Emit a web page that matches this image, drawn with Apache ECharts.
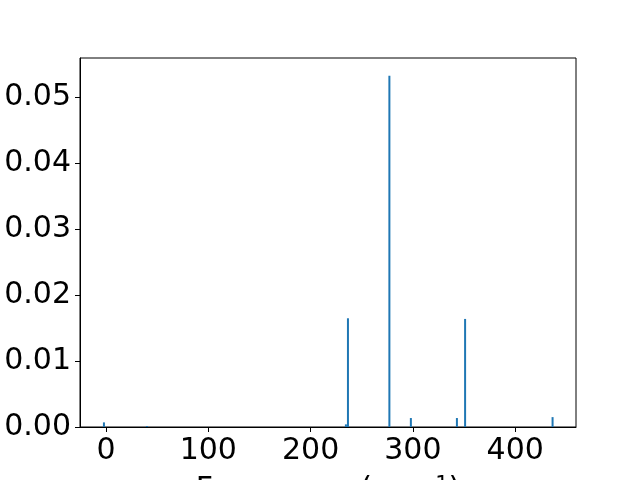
<!DOCTYPE html>
<html>
<head>
<meta charset="utf-8">
<script src="https://cdn.jsdelivr.net/npm/echarts@6/dist/echarts.min.js"></script>
<style>html,body{margin:0;padding:0;background:#fff;}#c{width:640px;height:480px;}</style>
</head>
<body>
<div id="c"></div>
<script>
// Frequencies (cm^-1) and intensities
const frequencies = [-2, 40, 234.5, 236.5, 277, 298, 343, 351, 436.5];
const intensities = [0.0007, 0.00015, 0.0004, 0.0165, 0.0533, 0.00136, 0.00136, 0.0164, 0.0015];
const xTicks = [0, 100, 200, 300, 400];
const yTicks = [0, 0.01, 0.02, 0.03, 0.04, 0.05];

const chart = echarts.init(document.getElementById('c'), null, {renderer: 'canvas'});
const font = 'DejaVu Sans';
const fs = 30;
chart.setOption({
  animation: false,
  grid: {left: 80, right: 64, top: 58, bottom: 53, show: true, borderColor: '#000', borderWidth: 1,
    backgroundColor: 'transparent', containLabel: false, outerBoundsMode: 'none'},
  xAxis: {
    type: 'value', min: -25.4, max: 459.4,
    name: 'Frequency (cm{sup|\u22121})',
    nameLocation: 'middle', nameGap: 48,
    nameTextStyle: {fontFamily: font, fontSize: fs, color: '#000', verticalAlign: 'top',
      rich: {sup: {fontFamily: font, fontSize: 21, color: '#000', verticalAlign: 'top', padding: [0, 0, 6, 0]}}},
    axisLine: {show: true, onZero: false, lineStyle: {color: '#000', width: 1}},
    axisTick: {show: true, length: 5, lineStyle: {color: '#000'}, customValues: xTicks},
    axisLabel: {fontFamily: font, fontSize: fs, color: '#000', margin: 9, customValues: xTicks},
    splitLine: {show: false}
  },
  yAxis: {
    type: 'value', min: 0, max: 0.056,
    axisLine: {show: true, onZero: false, lineStyle: {color: '#000', width: 1}},
    axisTick: {show: true, length: 5, lineStyle: {color: '#000'}, customValues: yTicks},
    axisLabel: {fontFamily: font, fontSize: fs, color: '#000', margin: 9, customValues: yTicks,
      formatter: v => v.toFixed(2)},
    splitLine: {show: false}
  },
  series: [{
    type: 'bar',
    barWidth: 2,
    itemStyle: {color: '#1f77b4'},
    data: frequencies.map((f, i) => [f, intensities[i]])
  }]
});
</script>
</body>
</html>
